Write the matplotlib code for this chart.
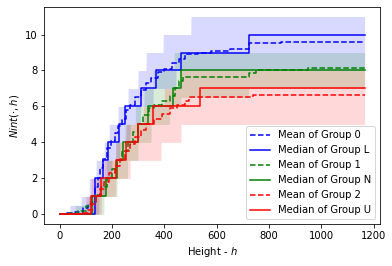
import numpy as np
import matplotlib
matplotlib.use("Agg")
import matplotlib.pyplot as plt

# ------------------------- Data -------------------------
H_END = 1165

# medians (step functions: height where the value changes, new value)
med_L_h = [0, 135, 167, 186, 228, 251, 312, 369, 464, 723, H_END]
med_L_v = [0, 2, 3, 4, 5, 6, 7, 8, 9, 10, 10]
med_N_h = [0, 125, 178, 220, 243, 300, 338, 434, 464, H_END]
med_N_v = [0, 1, 2, 3, 4, 5, 6, 7, 8, 8]
med_U_h = [0, 119, 160, 217, 255, 300, 357, 535, H_END]
med_U_v = [0, 1, 2, 3, 4, 5, 6, 7, 7]

# means
mean_0_h = [0, 30, 60, 90, 110, 125, 135, 145, 155, 165, 180, 195, 210, 225, 240,
            255, 270, 290, 310, 330, 350, 375, 400, 430, 455, 480, 530, 580, 650,
            723, 845, H_END]
mean_0_v = [0, 0.05, 0.15, 0.35, 0.6, 1.0, 1.5, 2.0, 2.6, 3.1, 3.7, 4.1, 4.5, 4.9, 5.3,
            5.8, 6.1, 6.5, 6.9, 7.3, 7.6, 7.9, 8.1, 8.4, 8.65, 8.9, 9.0, 9.1, 9.2,
            9.55, 9.6, 9.6]
mean_1_h = [0, 40, 70, 100, 120, 140, 160, 180, 200, 220, 240, 260, 280, 300, 320,
            340, 360, 390, 420, 440, 455, 470, 723, 749, 948, H_END]
mean_1_v = [0, 0.05, 0.2, 0.45, 0.7, 1.1, 1.5, 2.0, 2.5, 3.0, 3.5, 4.0, 4.6, 5.0, 5.5,
            5.9, 6.1, 6.3, 6.6, 7.0, 7.4, 7.63, 7.85, 8.04, 8.15, 8.15]
mean_2_h = [0, 90, 110, 125, 140, 155, 170, 190, 210, 230, 250, 270, 290, 310, 330,
            360, 390, 420, 450, 480, 494, 533, 740, H_END]
mean_2_v = [0, 0.05, 0.25, 0.6, 1.0, 1.4, 1.8, 2.3, 2.7, 3.1, 3.5, 3.9, 4.3, 4.7, 5.0,
            5.3, 5.6, 5.9, 6.1, 6.3, 6.5, 6.55, 6.65, 6.65]

# bands (lower / upper step functions)
band_0_up_h = [0, 40, 83, 114, 140, 171, 190, 224, 262, 300, 331, 396, 502, H_END]
band_0_up_v = [0, 0.5, 1, 2, 3, 4, 5, 6, 7, 8, 9, 10, 11, 11]
band_0_lo_h = [0, 150, 175, 200, 230, 270, 310, 358, 445, H_END]
band_0_lo_v = [0, 1, 2, 3, 4, 5, 6, 7, 8, 8]
band_1_up_h = [0, 60, 110, 150, 180, 215, 250, 290, 323, 358, 438, H_END]
band_1_up_v = [0, 0.5, 1, 2, 3, 4, 5, 6, 7, 8, 9, 9]
band_1_lo_h = [0, 170, 220, 260, 300, 350, 420, 464, 723, H_END]
band_1_lo_v = [0, 1, 2, 3, 4, 5, 6, 6.5, 7, 7]
band_2_up_h = [0, 100, 120, 170, 215, 255, 320, 400, 464, H_END]
band_2_up_v = [0, 1, 2, 3, 4, 5, 6, 7, 8, 8]
band_2_lo_h = [0, 160, 215, 270, 388, 464, H_END]
band_2_lo_v = [0, 1, 2, 3, 4, 5, 5]

groups = [
    ("b", "Mean of Group 0", "Median of Group L", mean_0_h, mean_0_v, med_L_h, med_L_v,
     band_0_lo_h, band_0_lo_v, band_0_up_h, band_0_up_v),
    ("g", "Mean of Group 1", "Median of Group N", mean_1_h, mean_1_v, med_N_h, med_N_v,
     band_1_lo_h, band_1_lo_v, band_1_up_h, band_1_up_v),
    ("r", "Mean of Group 2", "Median of Group U", mean_2_h, mean_2_v, med_U_h, med_U_v,
     band_2_lo_h, band_2_lo_v, band_2_up_h, band_2_up_v),
]


def step_on(grid, h, v):
    # value of a post-step function on a grid
    idx = np.searchsorted(np.asarray(h), grid, side="right") - 1
    return np.asarray(v)[np.clip(idx, 0, len(v) - 1)]


grid = np.arange(0, H_END + 1, 1)

# ------------------------- Plot -------------------------
fig = plt.figure(figsize=(392 / 72, 266 / 72), dpi=72)
ax = fig.add_axes([0.113, 0.157, 0.856, 0.818])

for c, lab_mean, lab_med, mh, mv, dh, dv, loh, lov, uph, upv in groups:
    lo = step_on(grid, loh, lov)
    up = step_on(grid, uph, upv)
    ax.fill_between(grid, lo, up, color=c, alpha=0.15, linewidth=0)
    ax.plot(mh, mv, color=c, linestyle="--", drawstyle="steps-post", label=lab_mean)
    ax.plot(dh, dv, color=c, linestyle="-", drawstyle="steps-post", label=lab_med)

ax.set_xticks([0, 200, 400, 600, 800, 1000, 1200])
ax.set_yticks([0, 2, 4, 6, 8, 10])
ax.set_xlabel("Height - $h$")
ax.set_ylabel(r"$Nint(\cdot, h)$")
ax.legend(loc="lower right")

fig.savefig("out.png", dpi=72)
